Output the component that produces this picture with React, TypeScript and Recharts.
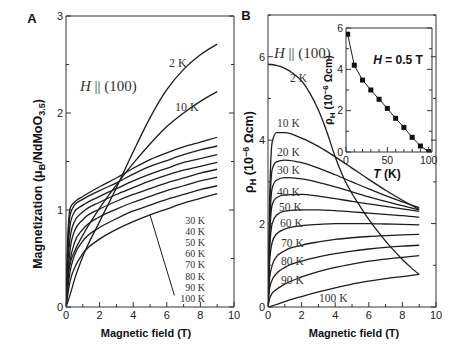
import React from 'react';
import { LineChart, Line, XAxis, YAxis, ReferenceLine } from 'recharts';

// ---- panel A: magnetization vs field (uB / NdMoO3.5) ----
const fieldA = [0, 0.1, 0.25, 0.5, 1, 2, 3, 4, 5, 6, 7, 8, 9];
const mag2K = [0, 0.05, 0.13, 0.28, 0.52, 0.88, 1.23, 1.6, 1.95, 2.24, 2.45, 2.6, 2.71];
const mag10K = [0, 0.3, 0.45, 0.57, 0.74, 1.02, 1.26, 1.48, 1.68, 1.86, 2.0, 2.12, 2.22];
const mag30K = [0, 0.7, 1.02, 1.08, 1.14, 1.24, 1.33, 1.43, 1.52, 1.59, 1.65, 1.7, 1.75];
const mag40K = [0, 0.6, 0.95, 1.05, 1.11, 1.2, 1.28, 1.37, 1.45, 1.51, 1.57, 1.62, 1.66];
const mag50K = [0, 0.5, 0.85, 0.98, 1.05, 1.14, 1.22, 1.3, 1.37, 1.43, 1.49, 1.53, 1.57];
const mag60K = [0, 0.4, 0.72, 0.88, 0.98, 1.08, 1.16, 1.23, 1.3, 1.36, 1.41, 1.45, 1.49];
const mag70K = [0, 0.32, 0.6, 0.78, 0.9, 1.01, 1.09, 1.16, 1.22, 1.28, 1.33, 1.38, 1.42];
const mag80K = [0, 0.25, 0.48, 0.66, 0.8, 0.93, 1.01, 1.08, 1.14, 1.2, 1.25, 1.3, 1.34];
const mag90K = [0, 0.18, 0.37, 0.53, 0.68, 0.82, 0.91, 0.99, 1.05, 1.11, 1.16, 1.21, 1.25];
const mag100K = [0, 0.12, 0.27, 0.4, 0.55, 0.7, 0.8, 0.88, 0.95, 1.01, 1.07, 1.12, 1.17];
const pointerA = [{ x: 5.0, y: 0.95 }, { x: 6.45, y: 0.12 }];
const labelsA = ['30 K', '40 K', '50 K', '60 K', '70 K', '80 K', '90 K', '100 K'];

// ---- panel B: Hall resistivity vs field (1e-6 ohm cm) ----
const fieldB = [0, 0.1, 0.25, 0.5, 1, 2, 3, 4, 5, 6, 7, 8, 9];
const field2K = [0, 0.5, 1, 1.5, 2, 2.5, 3, 3.5, 4, 4.5, 5, 5.5, 6, 6.5, 7, 7.5, 8, 8.5, 9];
const rho2K = [5.82, 5.79, 5.72, 5.6, 5.42, 5.12, 4.72, 4.2, 3.6, 3.1, 2.72, 2.4, 2.1, 1.83, 1.58, 1.35, 1.14, 0.95, 0.78];
const rho10K = [0, 2.6, 3.95, 4.18, 4.18, 4.05, 3.85, 3.6, 3.33, 3.06, 2.8, 2.56, 2.34];
const rho20K = [0, 2.2, 3.3, 3.48, 3.52, 3.46, 3.33, 3.17, 3.0, 2.83, 2.67, 2.52, 2.38];
const rho30K = [0, 1.9, 2.85, 3.04, 3.1, 3.07, 2.99, 2.88, 2.76, 2.64, 2.53, 2.43, 2.33];
const rho40K = [0, 1.65, 2.45, 2.62, 2.69, 2.7, 2.66, 2.6, 2.53, 2.47, 2.41, 2.35, 2.29];
const rho50K = [0, 1.4, 2.0, 2.2, 2.3, 2.33, 2.33, 2.31, 2.28, 2.25, 2.22, 2.19, 2.15];
const rho60K = [0, 1.1, 1.55, 1.75, 1.87, 1.95, 1.98, 2.0, 2.0, 2.0, 1.99, 1.98, 1.97];
const rho70K = [0, 0.7, 1.0, 1.2, 1.35, 1.48, 1.56, 1.62, 1.66, 1.69, 1.71, 1.73, 1.74];
const rho80K = [0, 0.45, 0.65, 0.8, 0.95, 1.1, 1.2, 1.28, 1.34, 1.39, 1.43, 1.46, 1.48];
const rho90K = [0, 0.2, 0.33, 0.42, 0.55, 0.72, 0.85, 0.95, 1.03, 1.1, 1.15, 1.19, 1.23];
const rho100K = [0, 0.01, 0.03, 0.06, 0.13, 0.25, 0.36, 0.46, 0.55, 0.62, 0.68, 0.73, 0.78];

// ---- inset: rho_H at H = 0.5 T vs temperature ----
const insetT = [2, 10, 20, 30, 40, 50, 60, 70, 80, 90, 100];
const insetRho = [5.7, 4.2, 3.48, 3.0, 2.55, 2.11, 1.63, 1.19, 0.71, 0.29, 0.02];

const fieldTicks = [0, 1, 2, 3, 4, 5, 6, 7, 8, 9, 10];
const magTicks = [0, 0.5, 1, 1.5, 2, 2.5, 3];
const rhoTicks = [0, 1, 2, 3, 4, 5, 6, 7];
const insetTTicks = [0, 10, 20, 30, 40, 50, 60, 70, 80, 90, 100];
const insetRhoTicks = [0, 1, 2, 3, 4, 5, 6];

const AXIS = '#333';
const INK = '#1c1c1c';
const SANS = '"Liberation Sans", Arial, sans-serif';
const SERIF = '"Liberation Serif", "Times New Roman", serif';

const toPts = (xs: number[], ys: number[]) => xs.map((h, i) => ({ h, v: ys[i] }));

const seriesA = [mag2K, mag10K, mag30K, mag40K, mag50K, mag60K, mag70K, mag80K, mag90K, mag100K].map(
  (ys) => toPts(fieldA, ys)
);
const seriesB = [
  toPts(field2K, rho2K),
  ...[rho10K, rho20K, rho30K, rho40K, rho50K, rho60K, rho70K, rho80K, rho90K, rho100K].map((ys) =>
    toPts(fieldB, ys)
  ),
];
const insetData = toPts(insetT, insetRho);

type Side = 'bottom' | 'top' | 'left' | 'right';

// inward tick marks, labels outside
function inTick(side: Side, isMajor: (v: number) => boolean, showLabel: boolean, fs = 11) {
  return (props: any) => {
    const { x, y, payload } = props;
    const v = payload.value;
    const major = isMajor(v);
    const len = major ? 5 : 3;
    const dx = side === 'left' ? len : side === 'right' ? -len : 0;
    const dy = side === 'bottom' ? -len : side === 'top' ? len : 0;
    let label = null;
    if (showLabel && major) {
      if (side === 'bottom')
        label = (
          <text x={x} y={y + fs + 1} textAnchor="middle" fontSize={fs} fontFamily={SANS} fill="#222">
            {v}
          </text>
        );
      if (side === 'left')
        label = (
          <text x={x - 3} y={y + fs * 0.36} textAnchor="end" fontSize={fs} fontFamily={SANS} fill="#222">
            {v}
          </text>
        );
    }
    return (
      <g>
        <line x1={x} y1={y} x2={x + dx} y2={y + dy} stroke={AXIS} strokeWidth={1} />
        {label}
      </g>
    );
  };
}

function frameAxes(
  xDom: number[],
  xTicks: number[],
  xMajor: (v: number) => boolean,
  yDom: number[],
  yTicks: number[],
  yMajor: (v: number) => boolean,
  fs: number
) {
  const common = { tickSize: 0, tickMargin: 0, tickLine: false, interval: 0 as const, allowDataOverflow: true, axisLine: { stroke: AXIS } };
  return [
    <XAxis key="xb" xAxisId={0} type="number" dataKey="h" domain={xDom} ticks={xTicks} height={1} tick={inTick('bottom', xMajor, true, fs)} {...common} />,
    <XAxis key="xt" xAxisId="t" orientation="top" type="number" domain={xDom} ticks={xTicks} height={1} tick={inTick('top', xMajor, false)} {...common} />,
    <YAxis key="yl" yAxisId={0} type="number" dataKey="v" domain={yDom} ticks={yTicks} width={1} tick={inTick('left', yMajor, true, fs)} {...common} />,
    <YAxis key="yr" yAxisId="r" orientation="right" type="number" domain={yDom} ticks={yTicks} width={1} tick={inTick('right', yMajor, false)} {...common} />,
  ];
}

const even = (v: number) => v % 2 === 0;
const whole = (v: number) => Number.isInteger(v);

const Square = (props: any) => {
  const { cx, cy } = props;
  if (cx == null || cy == null) return null;
  return <rect x={cx - 2.5} y={cy - 2.5} width={5} height={5} fill="#111" />;
};

const abs = (left: number, top: number): React.CSSProperties => ({ position: 'absolute', left, top });

export default function App() {
  return (
    <div style={{ position: 'absolute', left: 0, top: 0, width: 463, height: 348, background: '#fff' }}>
      <div style={abs(0, 0)}>
        <LineChart width={240} height={348} margin={{ top: 15, left: 65, right: 5, bottom: 40 }}>
          {frameAxes([0, 10], fieldTicks, even, [0, 3], magTicks, whole, 11)}
          {seriesA.map((d, i) => (
            <Line key={i} data={d} dataKey="v" type="monotone" stroke={INK} strokeWidth={1.3} dot={false} activeDot={false} isAnimationActive={false} />
          ))}
          <ReferenceLine segment={pointerA} stroke={INK} strokeWidth={1} />
        </LineChart>
      </div>
      <div style={abs(240, 0)}>
        <LineChart width={223} height={348} margin={{ top: 14, left: 27, right: 26, bottom: 40 }}>
          {frameAxes([0, 10], fieldTicks, even, [0, 7], rhoTicks, even, 11)}
          {seriesB.map((d, i) => (
            <Line key={i} data={d} dataKey="v" type="monotone" stroke={INK} strokeWidth={1.3} dot={false} activeDot={false} isAnimationActive={false} />
          ))}
        </LineChart>
      </div>
      <div style={abs(300, 0)}>
        <LineChart width={150} height={200} margin={{ top: 27, left: 45, right: 17, bottom: 47 }}>
          {frameAxes([0, 104], insetTTicks, (v) => v % 50 === 0, [0, 6], insetRhoTicks, even, 10.5)}
          <Line data={insetData} dataKey="v" type="linear" stroke={INK} strokeWidth={1} dot={<Square />} activeDot={false} isAnimationActive={false} />
        </LineChart>
      </div>
      <svg width={463} height={348} style={{ position: 'absolute', left: 0, top: 0, pointerEvents: 'none' }}>
        <g fontFamily={SANS} fontWeight="bold" fill="#111">
          <text x={32} y={23} fontSize={13} textAnchor="middle">A</text>
          <text x={246} y={20} fontSize={13} textAnchor="middle">B</text>
          <text x={146} y={337} fontSize={11} textAnchor="middle">Magnetic field (T)</text>
          <text x={354} y={337} fontSize={11} textAnchor="middle">Magnetic field (T)</text>
          <text transform="translate(42,184) rotate(-90)" fontSize={12.5} textAnchor="middle">
            Magnetization (μ<tspan dy={3} fontSize={9}>B</tspan>
            <tspan dy={-3}>/NdMoO</tspan>
            <tspan dy={3} fontSize={9}>3.5</tspan>
            <tspan dy={-3}>)</tspan>
          </text>
          <text transform="translate(253,152) rotate(-90)" fontSize={12.5} textAnchor="middle">
            ρ<tspan dy={3} fontSize={9}>H</tspan>
            <tspan dy={-3}> (10</tspan>
            <tspan dy={-4} fontSize={9}>−6</tspan>
            <tspan dy={4}> Ωcm)</tspan>
          </text>
          <text transform="translate(332,90) rotate(-90)" fontSize={10.5} textAnchor="middle">
            ρ<tspan dy={3} fontSize={8}>H</tspan>
            <tspan dy={-3}> (10</tspan>
            <tspan dy={-4} fontSize={8}>−6</tspan>
            <tspan dy={4}> Ωcm)</tspan>
          </text>
          <text x={387} y={178} fontSize={12} textAnchor="middle">
            <tspan fontStyle="italic">T</tspan> (K)
          </text>
          <text x={398} y={64} fontSize={12} textAnchor="middle">
            <tspan fontStyle="italic">H</tspan> = 0.5 T
          </text>
        </g>
        <g fontFamily={SERIF} fill="#333">
          <text x={80} y={91} fontSize={15}>
            <tspan fontStyle="italic">H</tspan> || (100)
          </text>
          <text x={274} y={58} fontSize={15}>
            <tspan fontStyle="italic">H</tspan> || (100)
          </text>
          <text x={169} y={67} fontSize={12}>2 K</text>
          <text x={175} y={111} fontSize={12}>10 K</text>
          {labelsA.map((t, i) => (
            <text key={t} x={205} y={224 + i * 11.1} fontSize={10} textAnchor="end">{t}</text>
          ))}
          <text x={290} y={82} fontSize={11.5}>2 K</text>
          <text x={277} y={127} fontSize={11.5}>10 K</text>
          <text x={277} y={156} fontSize={11.5}>20 K</text>
          <text x={277} y={174} fontSize={11.5}>30 K</text>
          <text x={277} y={196} fontSize={11.5}>40 K</text>
          <text x={279} y={211} fontSize={11.5}>50 K</text>
          <text x={280} y={227} fontSize={11.5}>60 K</text>
          <text x={281} y={247} fontSize={11.5}>70 K</text>
          <text x={281} y={265} fontSize={11.5}>80 K</text>
          <text x={281} y={284} fontSize={11.5}>90 K</text>
          <text x={319} y={302} fontSize={11.5}>100 K</text>
        </g>
      </svg>
    </div>
  );
}
